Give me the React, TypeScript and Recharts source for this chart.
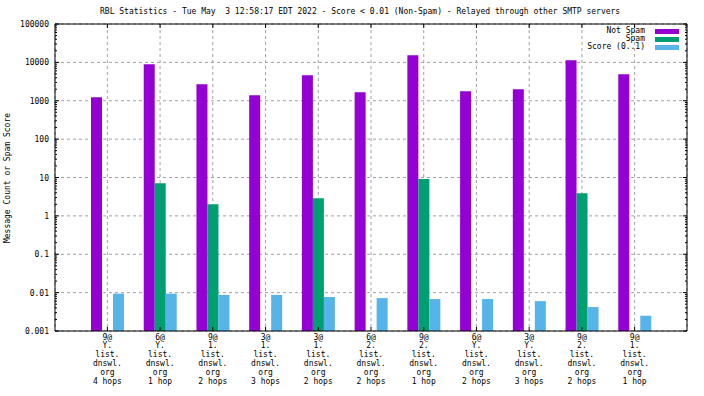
import React from 'react';
import { BarChart, Bar, XAxis, YAxis, CartesianGrid, Legend } from 'recharts';

// x categories (one per relay/zone/hop combination)
const prefixes = ['9@', '6@', '9@', '3@', '3@', '6@', '9@', '6@', '3@', '9@', '9@'];
const zones = ['Y.', 'Y.', '1.', '1.', '1.', '2.', '2.', 'Y.', 'Y.', '2.', '1.'];
const hops = ['4 hops', '1 hop', '2 hops', '3 hops', '2 hops', '2 hops', '1 hop', '2 hops', '3 hops', '2 hops', '1 hop'];

// series values
const notSpam = [1240, 8980, 2700, 1400, 4640, 1675, 15400, 1780, 2000, 11400, 4930];
const spam = [null, 7.1, 2.0, null, 2.9, null, 9.1, null, null, 3.9, null];
const score = [0.0094, 0.0094, 0.0087, 0.0087, 0.0077, 0.0072, 0.0068, 0.0068, 0.006, 0.0042, 0.0025];

// series names / colours, in legend order
const seriesKeys = ['notSpam', 'spam', 'score'];
const seriesNames = ['Not Spam', 'Spam', 'Score (0..1)'];
const seriesColors = ['#9400d3', '#009e73', '#56b4e9'];

// y tick labels (decades)
const decades = [0.001, 0.01, 0.1, 1, 10, 100, 1000, 10000, 100000];
const minorSteps = [2, 3, 4, 5, 6, 7, 8, 9];

const title = 'RBL Statistics - Tue May  3 12:58:17 EDT 2022 - Score < 0.01 (Non-Spam) - Relayed through other SMTP servers';
const yTitle = 'Message Count or Spam Score';

const FONT = "'DejaVu Sans Mono', monospace";

const data = prefixes.map((p, i) => ({
    label: [p, zones[i], 'list.', 'dnswl.', 'org', hops[i]].join('\n'),
    notSpam: notSpam[i],
    spam: spam[i],
    score: score[i],
}));

const allTicks = [
    ...decades,
    ...decades.slice(0, -1).flatMap((d) => minorSteps.map((m) => d * m)),
].sort((a, b) => a - b);

const isMajor = (v: number) => Math.abs(Math.log10(v) - Math.round(Math.log10(v))) < 1e-6;

const BottomTick = (props: any) => {
    const { x, y, payload } = props;
    const lines = String(payload.value).split('\n');
    return (
        <g>
            <line x1={x} y1={y} x2={x} y2={y - 4} stroke="#000" />
            <text x={x} y={y} textAnchor="middle" fontFamily={FONT} fontSize={8} fill="#000">
                {lines.map((l, k) => (
                    <tspan key={k} x={x} dy={k === 0 ? 8.5 : 8.8}>{l}</tspan>
                ))}
            </text>
        </g>
    );
};

const TopTick = (props: any) => {
    const { x, y } = props;
    return <line x1={x} y1={y} x2={x} y2={y + 4} stroke="#000" />;
};

const LeftTick = (props: any) => {
    const { x, y, payload } = props;
    const major = isMajor(payload.value);
    return (
        <g>
            <line x1={x} y1={y} x2={x + (major ? 4 : 2)} y2={y} stroke="#000" />
            {major && (
                <text x={x - 6} y={y + 3} textAnchor="end" fontFamily={FONT} fontSize={8} fill="#000">
                    {String(payload.value)}
                </text>
            )}
        </g>
    );
};

const RightTick = (props: any) => {
    const { x, y, payload } = props;
    const major = isMajor(payload.value);
    return <line x1={x} y1={y} x2={x - (major ? 4 : 2)} y2={y} stroke="#000" />;
};

const LegendBox = () => (
    <div style={{ fontFamily: FONT, fontSize: 8, lineHeight: '8px' }}>
        {seriesNames.map((name, i) => (
            <div key={name} style={{ display: 'flex', justifyContent: 'flex-end', alignItems: 'center', height: 8 }}>
                <span style={{ whiteSpace: 'pre' }}>{name}</span>
                <span style={{ display: 'inline-block', width: 24, height: 5, background: seriesColors[i], marginLeft: 10 }} />
            </div>
        ))}
    </div>
);

export default function App() {
    return (
        <div style={{ position: 'absolute', left: 0, top: 0, width: 704, height: 396, background: '#fff', fontFamily: FONT }}>
            <div style={{ position: 'absolute', left: 100, top: 7, fontSize: 8, lineHeight: '10px', whiteSpace: 'pre' }}>
                {title}
            </div>
            <div
                style={{
                    position: 'absolute',
                    left: 8,
                    top: 178,
                    fontSize: 8,
                    lineHeight: '10px',
                    whiteSpace: 'pre',
                    transform: 'translate(-50%, -50%) rotate(-90deg)',
                }}
            >
                {yTitle}
            </div>
            <BarChart
                width={704}
                height={396}
                data={data}
                margin={{ top: 23, right: 16, bottom: 0, left: 0 }}
                barGap={0}
                style={{ position: 'absolute', left: 0, top: 0 }}
            >
                <CartesianGrid stroke="#a0a0a0" strokeDasharray="3 3" horizontalValues={decades} />
                <XAxis
                    dataKey="label"
                    height={65}
                    padding={{ left: 26, right: 26 }}
                    tickSize={0}
                    tickMargin={0}
                    tickLine={false}
                    axisLine={{ stroke: '#000' }}
                    interval={0}
                    tick={<BottomTick />}
                />
                <XAxis
                    xAxisId="top"
                    dataKey="label"
                    orientation="top"
                    height={1}
                    padding={{ left: 26, right: 26 }}
                    tickSize={0}
                    tickMargin={0}
                    tickLine={false}
                    axisLine={{ stroke: '#000' }}
                    interval={0}
                    tick={<TopTick />}
                />
                <YAxis
                    scale="log"
                    domain={[0.001, 100000]}
                    allowDataOverflow
                    ticks={allTicks}
                    interval={0}
                    width={55}
                    tickSize={0}
                    tickMargin={0}
                    tickLine={false}
                    axisLine={{ stroke: '#000' }}
                    tick={<LeftTick />}
                />
                <YAxis
                    yAxisId="right"
                    orientation="right"
                    scale="log"
                    domain={[0.001, 100000]}
                    allowDataOverflow
                    ticks={allTicks}
                    interval={0}
                    width={1}
                    tickSize={0}
                    tickMargin={0}
                    tickLine={false}
                    axisLine={{ stroke: '#000' }}
                    tick={<RightTick />}
                />
                <Legend
                    layout="vertical"
                    align="center"
                    verticalAlign="middle"
                    content={<LegendBox />}
                    wrapperStyle={{ top: 27, left: 'auto', right: 25, width: 'auto' }}
                />
                {seriesKeys.map((k, i) => (
                    <Bar key={k} dataKey={k} name={seriesNames[i]} fill={seriesColors[i]} barSize={11} isAnimationActive={false} />
                ))}
            </BarChart>
        </div>
    );
}
